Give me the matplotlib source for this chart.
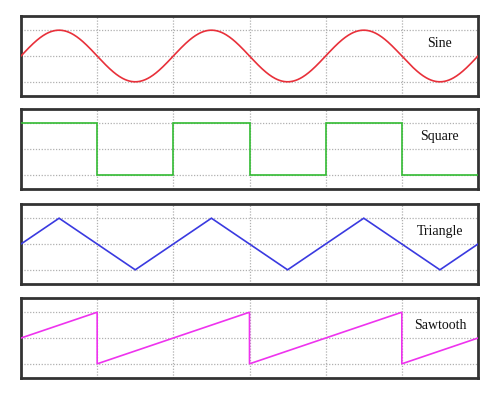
import numpy as np
import matplotlib
matplotlib.use("Agg")
import matplotlib.pyplot as plt

# --- data ---
labels = ["Sine", "Square", "Triangle", "Sawtooth"]
colors = ["#e8303a", "#33bb33", "#3a3ae0", "#ee33ee"]

sine_amplitude = 1.0
sine_period = 2.0
sine_cycles = 3

square_x = [0, 1, 1, 2, 2, 3, 3, 4, 4, 5, 5, 6]
square_y = [1, 1, -1, -1, 1, 1, -1, -1, 1, 1, -1, -1]

triangle_x = [0, 0.5, 1.5, 2.5, 3.5, 4.5, 5.5, 6]
triangle_y = [0, 1, -1, 1, -1, 1, -1, 0]

sawtooth_x = [0, 1, 1, 3, 3, 5, 5, 6]
sawtooth_y = [0, 1, -1, 1, -1, 1, -1, 0]

x_ticks = [1, 2, 3, 4, 5]
y_ticks = [-1, 0, 1]

# --- figure ---
fig = plt.figure(figsize=(5.0, 3.95), dpi=100)

panel_bottoms = [0.757, 0.5215, 0.281, 0.043]
panel_height = 0.2025
left, width = 0.042, 0.914

sine_x = np.linspace(0, sine_period * sine_cycles, 600)
sine_y = sine_amplitude * np.sin(2 * np.pi * sine_x / sine_period)

series = [(sine_x, sine_y), (square_x, square_y),
          (triangle_x, triangle_y), (sawtooth_x, sawtooth_y)]

for i, ((xs, ys), lab, col) in enumerate(zip(series, labels, colors)):
    ax = fig.add_axes([left, panel_bottoms[i], width, panel_height])
    ax.set_xlim(0, 6)
    ax.set_ylim(-1.55, 1.55)
    for xv in x_ticks:
        ax.axvline(xv, color="#b0b0b0", lw=0.9, ls=(0, (1, 1.3)), zorder=1)
    for yv in y_ticks:
        ax.axhline(yv, color="#b0b0b0", lw=0.9, ls=(0, (1, 1.3)), zorder=1)
    ax.plot(xs, ys, color=col, lw=1.2, zorder=3, solid_joinstyle="miter")
    ax.text(5.5, 0.5, lab, ha="center", va="center",
            fontsize=10, family=["Liberation Serif", "DejaVu Serif"],
            color="#111111", zorder=4)
    ax.set_xticks([])
    ax.set_yticks([])
    for sp in ax.spines.values():
        sp.set_color("#333333")
        sp.set_linewidth(2.0)

fig.savefig("out.png", dpi=100)
